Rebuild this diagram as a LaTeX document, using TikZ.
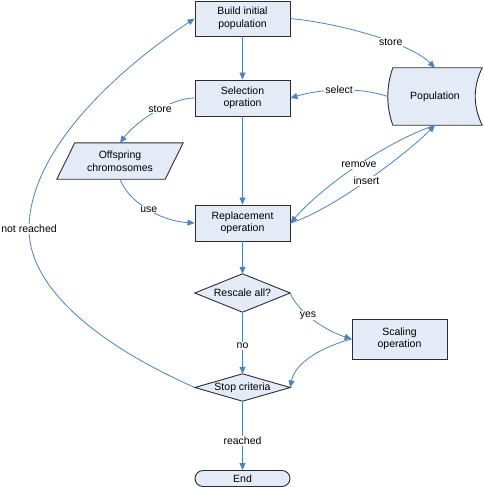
\documentclass[tikz,border=0pt]{standalone}
\usepackage{fontspec}
\setmainfont{Liberation Sans}
\usetikzlibrary{arrows.meta,calc,backgrounds}
\definecolor{fillc}{RGB}{228,234,246}
\definecolor{linec}{RGB}{79,129,189}
\definecolor{edgec}{RGB}{45,45,45}
\newcommand{\txtfont}{\fontsize{10.5}{12.5}\selectfont}
\begin{document}
\begin{tikzpicture}[x=1pt,y=-1pt,
  box/.style={draw=edgec, fill=fillc, line width=0.9pt, minimum width=95pt, minimum height=36pt, inner sep=0pt, align=center, font=\txtfont},
  plain/.style={inner sep=0pt, align=center, font=\txtfont},
  outline/.style={draw=edgec, fill=fillc, line width=0.9pt},
  arr/.style={draw=linec, line width=0.8pt, -{Triangle[length=7pt,width=6pt]}},
  lbl/.style={fill=white, inner sep=1pt, font=\txtfont}]
\useasboundingbox (0,0) rectangle (483,487);
% nodes
\node[box, minimum height=35pt] (build) at (242.5,18.5) {Build initial\\population};
\node[box] (sel) at (242.5,98) {Selection\\opration};
\node[box] (rep) at (242.5,223) {Replacement\\operation};
\node[box, minimum height=40pt] (scal) at (399.5,339) {Scaling\\operation};
\node[plain, minimum width=95pt, minimum height=38pt] (resc) at (242.5,293) {Rescale all?};
\node[plain, minimum width=95pt, minimum height=27pt] (stop) at (242.5,387.5) {Stop criteria};
\node[plain, minimum width=126pt, minimum height=36pt] (off) at (120,161) {Offspring\\chromosomes};
\node[plain, minimum width=94pt, minimum height=57pt] (pop) at (435,96.5) {Population};
\node[box, minimum height=16pt, rounded corners=8pt] (end) at (242.5,478.5) {End};
% custom outlines
\begin{pgfonlayer}{background}
\draw[outline] (resc.north) -- (resc.east) -- (resc.south) -- (resc.west) -- cycle;
\draw[outline] (stop.north) -- (stop.east) -- (stop.south) -- (stop.west) -- cycle;
\draw[outline] ($(off.north west)+(18,0)$) -- (off.north east) -- ($(off.south east)+(-18,0)$) -- (off.south west) -- cycle;
\draw[outline] ($(pop.north west)+(5,0)$) -- (pop.north east) .. controls +(-9.3,19) and +(-9.3,-19) .. (pop.south east) -- ($(pop.south west)+(5,0)$) .. controls +(-6.7,-19) and +(-6.7,19) .. ($(pop.north west)+(5,0)$) -- cycle;
\end{pgfonlayer}
% connectors
\draw[arr] (build.south) -- (sel.north);
\draw[arr] (sel.south) -- (rep.north);
\draw[arr] (rep.south) -- (resc.north);
\draw[arr] (resc.south) -- node[lbl, pos=0.55] {no} (stop.north);
\draw[arr] (stop.south) -- node[lbl, pos=0.58] {reached} (end.north);
\draw[arr] (build.east) .. controls +(50,5) and +(-25,-25) .. node[lbl, pos=0.62] {store} (pop.north);
\draw[arr] (pop.west) .. controls +(-30,-10) and +(30,-9) .. node[lbl, pos=0.5] {select} (sel.east);
\draw[arr] (sel.west) .. controls +(-25,0) and +(15,-20) .. node[lbl, pos=0.42] {store} (off.north);
\draw[arr] (off.south) .. controls +(8,22) and +(-35,-2) .. node[lbl, pos=0.52] {use} (rep.west);
\draw[arr] (pop.south) .. controls +(-45,15) and +(35,-40) .. node[lbl, pos=0.5] {remove} (rep.east);
\draw[arr] (rep.east) .. controls +(40,-12) and +(-30,30) .. node[lbl, pos=0.5] {insert} (pop.south);
\draw[arr] (resc.east) .. controls +(8,20) and +(-25,-8) .. node[lbl, pos=0.4] {yes} (scal.west);
\draw[arr] (scal.west) .. controls +(-30,8) and +(5,-25) .. (stop.east);
\coordinate (nr) at (29,229);
\draw[arr] (stop.west) .. controls +(-95,-42) and +(0,60) .. (nr) node[lbl] {not reached} .. controls +(0,-80) and +(-75,50) .. (build.west);
\end{tikzpicture}
\end{document}
